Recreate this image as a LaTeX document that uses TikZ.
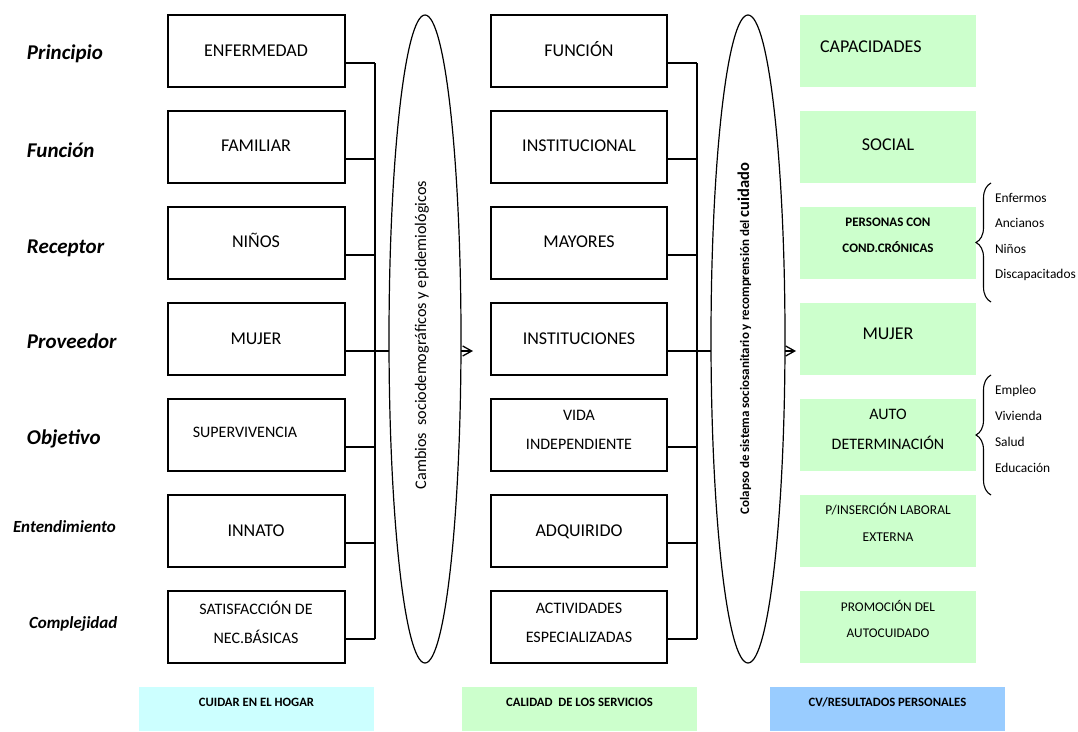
\documentclass[tikz,border=0pt]{standalone}
\usepackage{fontspec}
\setmainfont{Carlito}
\usetikzlibrary{shapes.geometric, arrows.meta, decorations.pathreplacing, calc}

\definecolor{paleGreen}{HTML}{CCFFCC}
\definecolor{paleCyan}{HTML}{CCFFFF}
\definecolor{paleBlue}{HTML}{99CCFF}

\begin{document}
\begin{tikzpicture}[x=1pt, y=-1pt]
\tikzset{
  every node/.style={inner sep=0pt, outer sep=0pt},
  cell/.style={draw, line width=1.5pt, minimum width=177pt, minimum height=72pt, anchor=north west},
  greencell/.style={fill=paleGreen, minimum width=176pt, minimum height=72pt, anchor=north west},
  footcell/.style={minimum width=235pt, minimum height=44pt, anchor=north west},
  capbox/.style={text height=#1, text depth=0pt},
  big/.style={capbox=11.6pt, font=\fontsize{18}{22}\selectfont},
  midone/.style={capbox=10.3pt, font=\fontsize{16}{20}\selectfont},
  midtwo/.style={font=\fontsize{16}{29}\selectfont, align=center},
  rowlabel/.style={capbox=13.5pt, anchor=west, font=\bfseries\itshape\fontsize{21}{24}\selectfont},
  rowlabelsmall/.style={capbox=11pt, anchor=west, font=\bfseries\itshape\fontsize{17}{20}\selectfont},
  foottext/.style={capbox=8.2pt, font=\bfseries\fontsize{12.7}{15}\selectfont},
  listtext/.style={capbox=8.6pt, anchor=west, font=\fontsize{13.4}{16}\selectfont},
  wire/.style={line width=1.4pt},
  lens/.style={draw, ellipse, line width=1.2pt, minimum height=648pt},
  bracket/.style={decorate, decoration={brace, amplitude=15pt}, line width=1.1pt},
  tip/.style={wire, -{Straight Barb[length=9pt, width=10pt, line width=1.3pt]}}
}

\useasboundingbox (0,0) rectangle (1078,731);
\fill[white] (0,0) rectangle (1078,731);

% row labels
\node[rowlabel] (r1) at (27,53) {Principio};
\node[rowlabel] (r2) at (27,151) {Función};
\node[rowlabel] (r3) at (27,247) {Receptor};
\node[rowlabel] (r4) at (27,342) {Proveedor};
\node[rowlabel] (r5) at (27,438) {Objetivo};
\node[rowlabelsmall] (r6) at (13,527) {Entendimiento};
\node[rowlabelsmall] (r7) at (29,623) {Complejidad};

% three columns of cells
\foreach \t [count=\i] in {15,111,207,303,399,495,591} {
  \node[cell] (l\i) at (168,\t) {};
  \node[cell, minimum width=176pt] (m\i) at (491,\t) {};
  \node[greencell] (g\i) at (800,\t) {};
  \coordinate (lj\i) at (375,\t+48);
  \coordinate (mj\i) at (697,\t+48);
  \draw[wire] (l\i.east |- lj\i) -- (lj\i);
  \draw[wire] (m\i.east |- mj\i) -- (mj\i);
}
\draw[wire] (lj1) -- (lj7);
\draw[wire] (mj1) -- (mj7);

% left column texts
\node[big] (l1t) at (256,51) {ENFERMEDAD};
\node[big] (l2t) at (256,146) {FAMILIAR};
\node[big] (l3t) at (256,242) {NIÑOS};
\node[big] (l4t) at (256,339) {MUJER};
\node[midone] (l5t) at (245,432) {SUPERVIVENCIA};
\node[big] (l6t) at (256,531) {INNATO};
\node[midtwo] (l7t) at (256,622.5) {SATISFACCIÓN DE\\NEC.BÁSICAS};

% middle column texts
\node[big] (m1t) at (579,51) {FUNCIÓN};
\node[big] (m2t) at (579,146) {INSTITUCIONAL};
\node[big] (m3t) at (579,242) {MAYORES};
\node[big] (m4t) at (579,338.5) {INSTITUCIONES};
\node[midtwo] (m5t) at (579,430) {VIDA\\INDEPENDIENTE};
\node[big] (m6t) at (579,531) {ADQUIRIDO};
\node[midtwo] (m7t) at (579,622.5) {ACTIVIDADES\\ESPECIALIZADAS};

% right column texts
\node[big, anchor=west] (g1t) at (820,47) {CAPACIDADES};
\node[big] (g2t) at (888,145) {SOCIAL};
\node[font=\bfseries\fontsize{13}{26}\selectfont, align=center] (g3t) at (888,235) {PERSONAS CON\\COND.CRÓNICAS};
\node[big] (g4t) at (888,334) {MUJER};
\node[font=\fontsize{16}{30}\selectfont, align=center] (g5t) at (888,429) {AUTO\\DETERMINACIÓN};
\node[font=\fontsize{13.5}{27}\selectfont, align=center] (g6t) at (888,522.5) {P/INSERCIÓN LABORAL\\EXTERNA};
\node[font=\fontsize{13.3}{26}\selectfont, align=center] (g7t) at (888,619) {PROMOCIÓN DEL\\AUTOCUIDADO};

% transition lenses
\node[lens, minimum width=72pt] (e1) at (425,339) {};
\node[capbox=10.3pt, rotate=90, font=\fontsize{16.2}{19}\selectfont] (e1t) at (421,335) {Cambios\ \ sociodemográficos y epidemiológicos};
\node[lens, minimum width=74pt] (e2) at (748,339) {};
\node[capbox=8.4pt, rotate=90, font=\bfseries\fontsize{13}{15}\selectfont] (e2t) at (745,338.5) {Colapso de sistema sociosanitario y recomprensión del {\fontsize{16.5}{18}\selectfont cuidado}};

\draw[wire] (lj4) -- (e1.west |- lj4);
\draw[wire] (mj4) -- (e2.west |- mj4);
\coordinate (a1) at (473,351);
\coordinate (a2) at (796,351);
\draw[tip] (e1.east |- a1) -- (a1);
\draw[tip] (e2.east |- a2) -- (a2);

% braces with their lists
\coordinate (b1s) at (991,302);
\coordinate (b1e) at (991,183);
\draw[bracket] (b1s) -- (b1e);
\node[listtext] (t1) at (995,198) {Enfermos};
\node[listtext] (t2) at (995,223.5) {Ancianos};
\node[listtext] (t3) at (995,249) {Niños};
\node[listtext] (t4) at (995,274.5) {Discapacitados};

\coordinate (b2s) at (991,495);
\coordinate (b2e) at (991,375);
\draw[bracket] (b2s) -- (b2e);
\node[listtext] (t5) at (995,390) {Empleo};
\node[listtext] (t6) at (995,416) {Vivienda};
\node[listtext] (t7) at (995,442) {Salud};
\node[listtext] (t8) at (995,468) {Educación};

% column headings at the foot
\node[footcell, fill=paleCyan] (f1) at (139,687) {};
\node[footcell, fill=paleGreen] (f2) at (462,687) {};
\node[footcell, fill=paleBlue] (f3) at (770,687) {};
\node[foottext] (f1t) at (256.5,702) {CUIDAR EN EL HOGAR};
\node[foottext] (f2t) at (579.5,702) {CALIDAD\ \ DE LOS SERVICIOS};
\node[foottext] (f3t) at (887.5,702) {CV/RESULTADOS PERSONALES};

\end{tikzpicture}
\end{document}
